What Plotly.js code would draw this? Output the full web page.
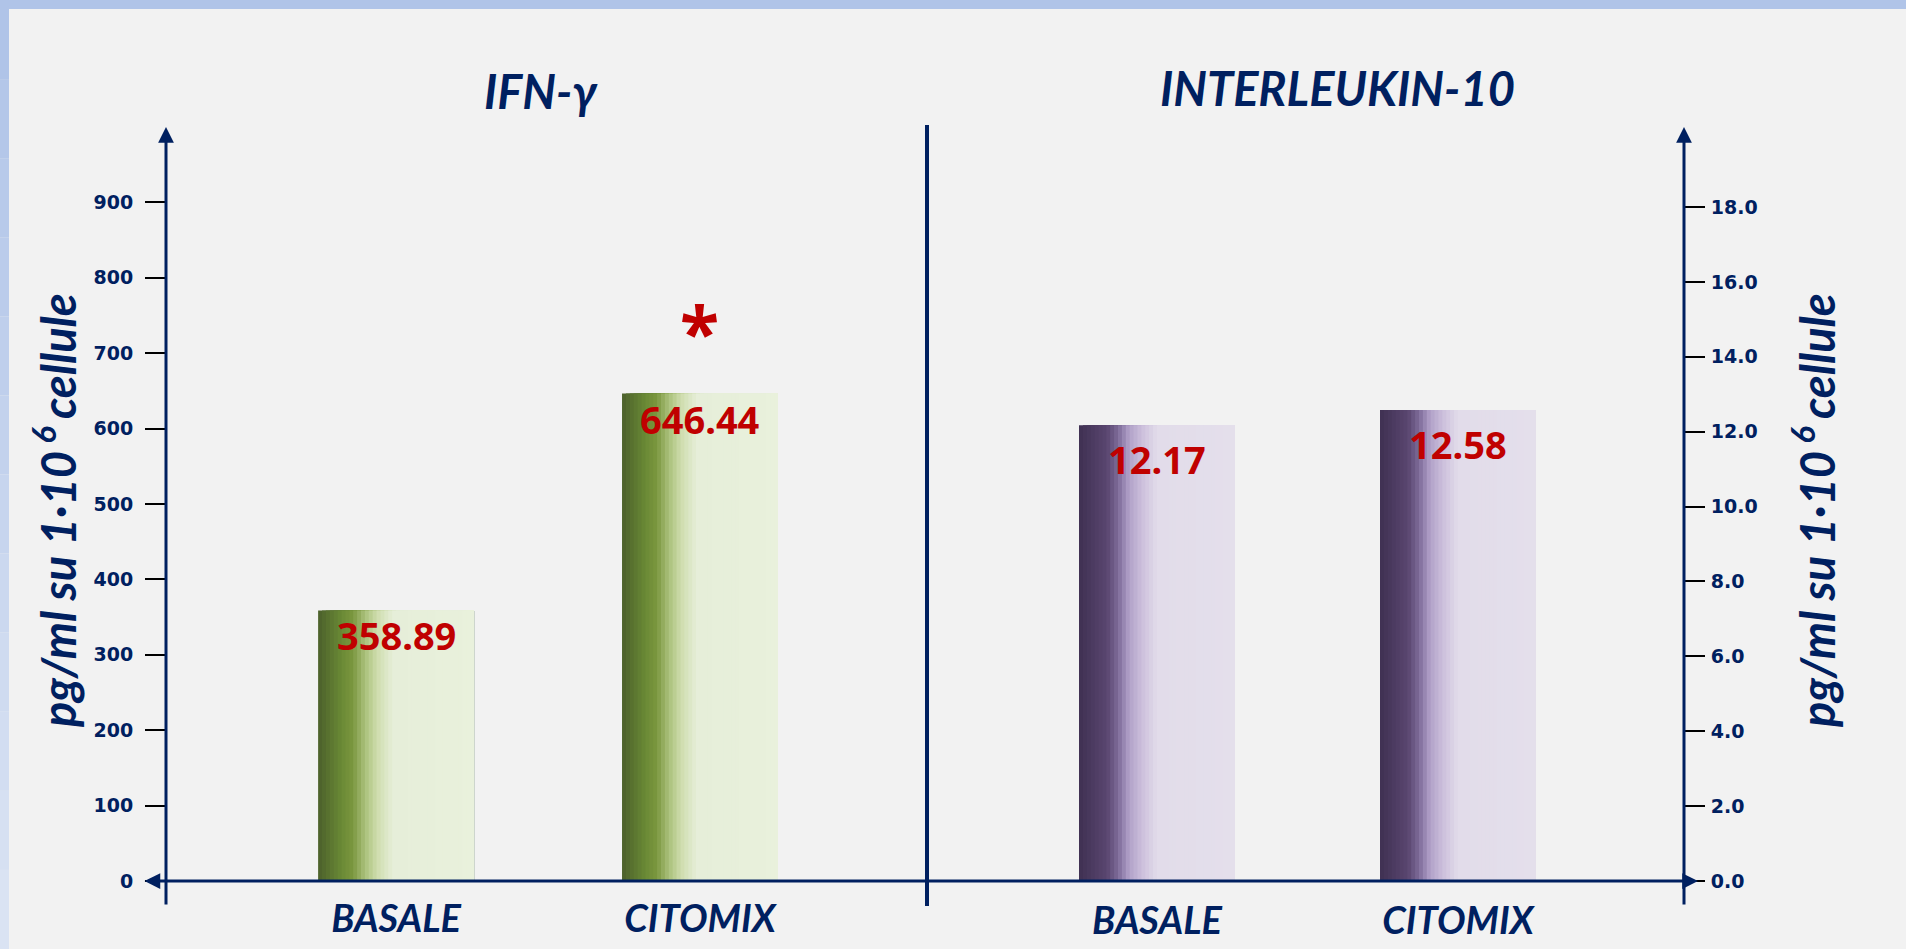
<!DOCTYPE html>
<html>
<head>
<meta charset="utf-8">
<script src="https://cdn.plot.ly/plotly-3.0.1.min.js"></script>
<style>
  html, body { margin: 0; padding: 0; background: #f2f2f2; }
  #chart { width: 1906px; height: 949px; }
</style>
</head>
<body>
<div id="chart"></div>
<script>
// data
const categories = ["BASALE", "CITOMIX"];
const ifnValues = [358.89, 646.44];
const il10Values = [12.17, 12.58];
const ifnTicks = [0, 100, 200, 300, 400, 500, 600, 700, 800, 900];
const il10Ticks = [0, 2, 4, 6, 8, 10, 12, 14, 16, 18];
const il10TickText = ["0.0", "2.0", "4.0", "6.0", "8.0", "10.0", "12.0", "14.0", "16.0", "18.0"];
const significant = [false, true]; // asterisk over IFN-γ bars

const W = 1906, H = 949;
const px = x => x / W;
const py = y => 1 - y / H;

const NAVY = "#002060";
const RED = "#c00000";
const HUMAN = "Lato, Open Sans, sans-serif";

// gradient stops across the bar width (left -> right)
const greenStops = [
  [0.00, [75, 95, 43]],
  [0.15, [106, 138, 53]],
  [0.22, [122, 150, 62]],
  [0.30, [169, 192, 122]],
  [0.38, [207, 221, 174]],
  [0.48, [230, 238, 217]],
  [1.00, [233, 241, 220]],
];
const purpleStops = [
  [0.00, [63, 49, 82]],
  [0.18, [90, 70, 112]],
  [0.25, [125, 106, 152]],
  [0.32, [176, 160, 200]],
  [0.40, [203, 190, 219]],
  [0.50, [226, 220, 234]],
  [1.00, [228, 223, 235]],
];

function colorAt(stops, t) {
  for (let i = 1; i < stops.length; i++) {
    if (t <= stops[i][0]) {
      const [t0, c0] = stops[i - 1];
      const [t1, c1] = stops[i];
      const f = (t - t0) / (t1 - t0);
      const c = c0.map((v, k) => Math.round(v + (c1[k] - v) * f));
      return `rgb(${c[0]},${c[1]},${c[2]})`;
    }
  }
  const c = stops[stops.length - 1][1];
  return `rgb(${c[0]},${c[1]},${c[2]})`;
}

// each bar = many overlaid strips, each reaching to the right edge
function gradientBars(values, stops, barWidth, xa, ya) {
  const N = 40;
  const traces = [];
  for (let i = 0; i < N; i++) {
    const start = -barWidth / 2 + (i * barWidth) / N;
    traces.push({
      type: "bar",
      x: categories,
      y: values,
      xaxis: xa,
      yaxis: ya,
      width: barWidth / 2 - start,
      offset: start,
      marker: { color: colorAt(stops, (i + 0.5) / N), line: { width: 0 } },
      hoverinfo: "skip",
      showlegend: false,
    });
  }
  return traces;
}

const data = [
  ...gradientBars(ifnValues, greenStops, 0.513, "x", "y"),
  ...gradientBars(il10Values, purpleStops, 0.518, "x2", "y2"),
];

const valueFont = { family: "Noto Sans, Open Sans, sans-serif", size: 38, color: RED, weight: "bold" };

const annotations = [];
categories.forEach((c, i) => {
  annotations.push({
    x: c, y: ifnValues[i], xref: "x", yref: "y",
    text: ifnValues[i].toFixed(2), showarrow: false,
    xanchor: "center", yanchor: "top", yshift: 3, font: valueFont,
  });
  annotations.push({
    x: c, y: il10Values[i], xref: "x2", yref: "y2",
    text: il10Values[i].toFixed(2), showarrow: false,
    xanchor: "center", yanchor: "top", yshift: -6, font: valueFont,
  });
  if (significant[i]) {
    annotations.push({
      x: c, y: ifnValues[i], xref: "x", yref: "y",
      text: "*", showarrow: false,
      xanchor: "center", yanchor: "bottom", yshift: 12,
      font: { family: "Noto Sans, sans-serif", size: 72, color: RED, weight: "bold" },
    });
  }
});

// panel titles
const titleFont = { family: HUMAN, size: 47, color: NAVY, weight: "bold", style: "italic" };
const paperText = { xref: "paper", yref: "paper", showarrow: false, xanchor: "center", yanchor: "middle" };
annotations.push({ ...paperText, x: px(541), y: py(91), text: "IFN-γ", font: titleFont });
annotations.push({ ...paperText, x: px(1337), y: py(88), text: "INTERLEUKIN-10", font: titleFont });

// y axis titles
const axisTitleFont = { family: HUMAN, size: 47, color: NAVY, weight: "bold", style: "italic" };
const axisTitle = "pg/ml su 1·10<sup> 6 </sup>cellule";
annotations.push({ ...paperText, x: px(55), y: py(511), text: axisTitle, textangle: -90, font: axisTitleFont });
annotations.push({ ...paperText, x: px(1814), y: py(511), text: axisTitle, textangle: -90, font: axisTitleFont });

// axis lines with arrow heads
const arrowBase = { xref: "paper", yref: "paper", text: "", showarrow: true, arrowhead: 2, arrowsize: 1.05, arrowwidth: 3, arrowcolor: NAVY };
annotations.push({ ...arrowBase, x: px(166), y: py(127), ax: 0, ay: 906 - 127 });
annotations.push({ ...arrowBase, x: px(1684), y: py(127), ax: 0, ay: 906 - 127 });
annotations.push({ ...arrowBase, x: px(1698), y: py(881), ax: -(1698 - 143), ay: 0, arrowside: "end+start", startarrowhead: 2, startarrowsize: 1.05 });

// background frame
const shapes = [
  { type: "rect", xref: "paper", yref: "paper", x0: 0, x1: 1, y0: py(9), y1: 1, fillcolor: "#b0c4e8", line: { width: 0 }, layer: "below" },
  { type: "line", xref: "paper", yref: "paper", x0: px(927), x1: px(927), y0: py(125), y1: py(906), line: { color: NAVY, width: 4 } },
];
for (let k = 0; k < 12; k++) {
  const t = k / 11;
  const c = [176 + (218 - 176) * t, 196 + (227 - 196) * t, 232 + (243 - 232) * t].map(Math.round);
  shapes.push({
    type: "rect", xref: "paper", yref: "paper", x0: 0, x1: px(9),
    y0: 1 - (k + 1) / 12, y1: 1 - k / 12,
    fillcolor: `rgb(${c[0]},${c[1]},${c[2]})`, line: { width: 0 }, layer: "below",
  });
}

const tickFont = { family: "DejaVu Sans, Verdana, sans-serif", size: 19, color: NAVY, weight: "bold" };
const catFont = { family: HUMAN, size: 38, color: NAVY, weight: "bold", style: "italic" };

const yDomain = [py(881), py(125)];

const layout = {
  width: W,
  height: H,
  margin: { l: 0, r: 0, t: 0, b: 0 },
  paper_bgcolor: "#f2f2f2",
  plot_bgcolor: "rgba(0,0,0,0)",
  barmode: "overlay",
  showlegend: false,
  hovermode: false,
  xaxis: {
    domain: [px(166), px(927)],
    type: "category",
    range: [-0.757, 1.747],
    showline: false, showgrid: false, zeroline: false,
    ticks: "", tickfont: catFont, ticklabelstandoff: 12,
    anchor: "y",
  },
  xaxis2: {
    domain: [px(927), px(1684)],
    type: "category",
    range: [-0.764, 1.751],
    showline: false, showgrid: false, zeroline: false,
    ticks: "", tickfont: catFont, ticklabelstandoff: 14,
    anchor: "y2",
  },
  yaxis: {
    domain: yDomain,
    range: [0, 1002.7],
    tickvals: ifnTicks,
    ticks: "outside", ticklen: 20, tickwidth: 2, tickcolor: "#000",
    tickfont: tickFont, ticklabelstandoff: 8,
    showline: false, showgrid: false, zeroline: false,
    anchor: "x", side: "left",
  },
  yaxis2: {
    domain: yDomain,
    range: [0, 20.19],
    tickvals: il10Ticks,
    ticktext: il10TickText,
    ticks: "outside", ticklen: 20, tickwidth: 2, tickcolor: "#000",
    tickfont: tickFont, ticklabelstandoff: 2,
    showline: false, showgrid: false, zeroline: false,
    anchor: "x2", side: "right",
  },
  annotations: annotations,
  shapes: shapes,
};

Plotly.newPlot("chart", data, layout, { displayModeBar: false, staticPlot: true });
</script>
</body>
</html>
